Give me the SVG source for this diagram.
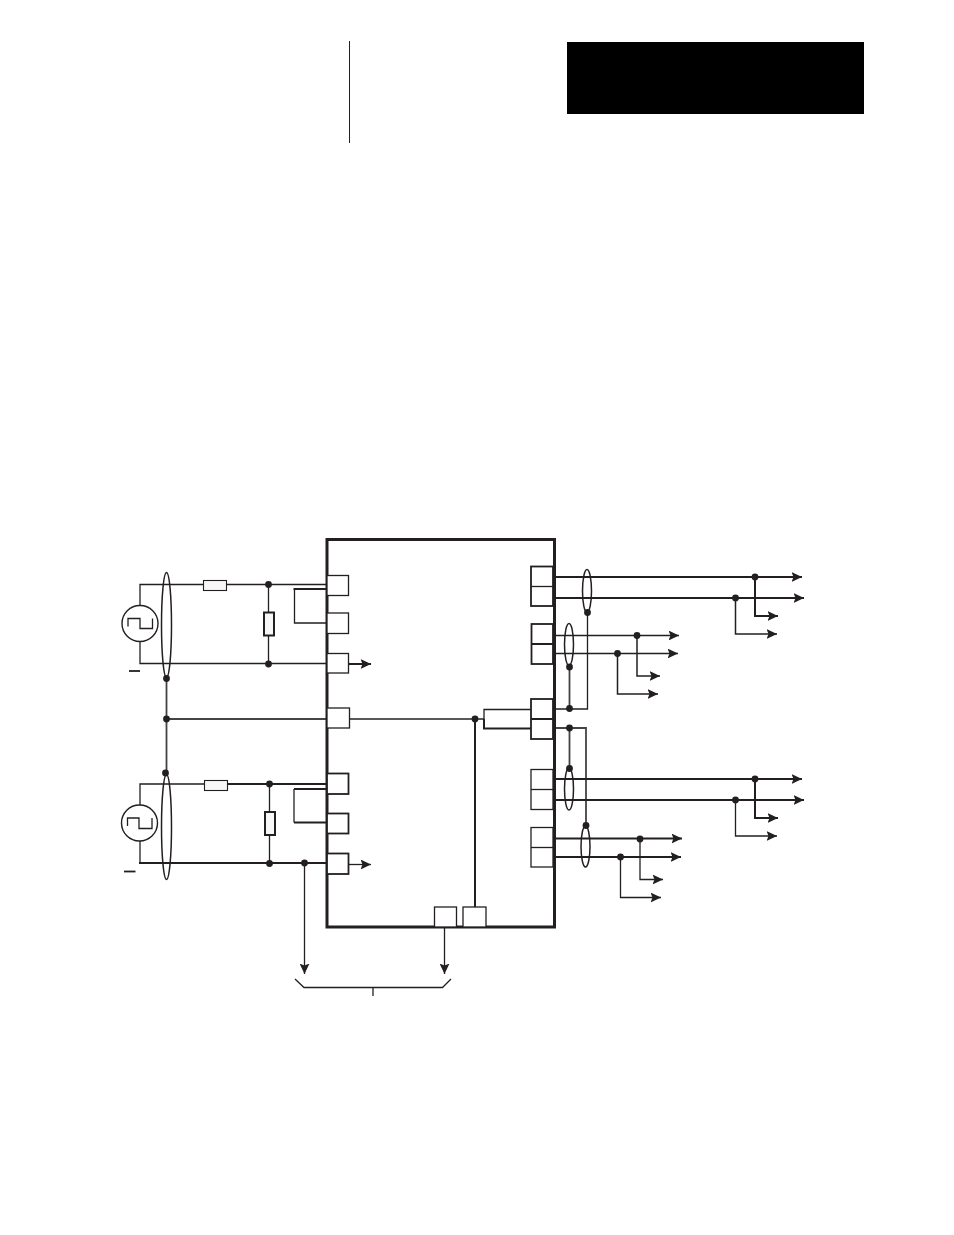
<svg xmlns="http://www.w3.org/2000/svg" width="954" height="1235" viewBox="0 0 954 1235">
<style>
.w{fill:none;stroke:#231f20;stroke-width:1.3}
.m{fill:none;stroke:#231f20;stroke-width:1.5}
.t{fill:none;stroke:#231f20;stroke-width:2}
.g{fill:none;stroke:#444;stroke-width:1.8}
.box{fill:#fff;stroke:#231f20;stroke-width:1.3}
.boxt{fill:#fff;stroke:#231f20;stroke-width:1.8}
.res{fill:#f7f7f7;stroke:#231f20;stroke-width:1.1}
.rest{fill:#f7f7f7;stroke:#231f20;stroke-width:2}
.d{fill:#231f20}
.e{fill:none;stroke:#231f20;stroke-width:1.5}
.a{fill:none;stroke:#231f20;stroke-width:1.3;marker-end:url(#ah)}
.am{fill:none;stroke:#231f20;stroke-width:1.5;marker-end:url(#ah)}
.at{fill:none;stroke:#231f20;stroke-width:2;marker-end:url(#ah)}
</style>
<defs>
<marker id="ah" markerUnits="userSpaceOnUse" markerWidth="11" markerHeight="10" refX="10.500" refY="5" orient="auto"><path d="M0 0L10.500 5L0 10L2 5Z" fill="#231f20"/></marker>
</defs>
<g id="header">
<rect x="567" y="42" width="297" height="72" fill="#000"/>
<line x1="349.500" y1="41" x2="349.500" y2="143" stroke="#231f20" stroke-width="1"/>
</g>
<g id="connectors">
<path class="w" d="M140 605V584.500H203.500M226.500 584.500H327"/>
<path class="w" d="M140 641V663.500H327"/>
<path class="w" d="M268.500 584.500V612.500M268.500 635.500V664"/>
<path class="w" d="M327 623H294.500V589"/><path class="t" d="M293.500 589H327"/>
<path class="g" d="M166.500 678V773M166.500 719H327"/>
<path class="at" d="M348 664H371"/>
<path class="w" d="M349.500 719H484"/>
<path class="t" d="M475 719V907"/>
<path class="w" d="M140 805V784H204.500"/><path class="t" d="M228 784H327"/>
<path class="w" d="M140 841V863"/><path class="t" d="M139 863H327"/>
<path class="w" d="M269.500 784V812M269.500 835V863.500"/>
<path class="w" d="M294 789V822.500"/><path class="t" d="M294 789H327M294 822.500H327"/>
<path class="a" d="M347 864.500H371"/>
<path class="a" d="M304.500 863V974"/>
<path class="a" d="M444.500 927V974"/>
<path class="w" d="M295 979L304 987.500H442.500L451 979M373 987.500V996"/>
<path class="at" d="M555 577H802"/><path class="at" d="M555 598H804"/>
<path class="at" d="M755 577V616H778"/><path class="am" d="M735.500 598V634H777"/>
<path class="a" d="M555 635.500H679"/><path class="a" d="M555 653.500H678"/>
<path class="am" d="M637 635.500V676H660"/><path class="am" d="M617.500 653.500V694H658"/>
<path class="w" d="M587.500 612V709H555"/>
<path class="g" d="M569.500 667V708.500"/>
<path class="g" d="M555 728H586V825.500M569.500 728V768.500"/>
<path class="at" d="M555 779H802"/><path class="at" d="M555 800H804"/>
<path class="at" d="M755 779V818H778"/><path class="a" d="M735.500 800V836H777"/>
<path class="at" d="M555 838.500H682"/><path class="at" d="M555 857H681"/>
<path class="a" d="M640 839V879.500H663"/><path class="a" d="M620.500 857V897.500H661"/>
</g>
<g id="main-block"><rect x="327" y="539.500" width="227.500" height="387.500" fill="none" stroke="#231f20" stroke-width="3"/></g>
<g id="source-1"><circle cx="140" cy="623.500" r="18" fill="#fff" stroke="#231f20" stroke-width="1.400"/><path class="w" d="M128 626.500V618.500H140V628.500H152.500V618.500"/><line x1="129" y1="671" x2="140" y2="671" stroke="#231f20" stroke-width="1.800"/></g>
<g id="source-2"><circle cx="139.500" cy="823" r="18" fill="#fff" stroke="#231f20" stroke-width="1.400"/><path class="w" d="M127.500 826V818H139V828.500H152V818"/><line x1="124" y1="871.500" x2="135.500" y2="871.500" stroke="#231f20" stroke-width="1.800"/></g>
<g id="shields">
<ellipse class="e" cx="166.500" cy="625" rx="5" ry="52.500"/>
<ellipse class="e" cx="166.500" cy="827" rx="5" ry="52.500"/>
<ellipse class="e" cx="587" cy="591" rx="4.500" ry="21.500"/>
<ellipse class="e" cx="569" cy="644.500" rx="4.500" ry="21"/>
<ellipse class="e" cx="569" cy="789" rx="4.500" ry="21"/>
<ellipse class="e" cx="585.500" cy="846.500" rx="4.500" ry="20.500"/>
</g>
<g id="resistors">
<rect class="res" x="203.500" y="580.500" width="23" height="10"/>
<rect class="rest" x="264" y="612.500" width="10" height="23"/>
<rect class="res" x="204.500" y="780.500" width="23" height="10"/>
<rect class="rest" x="265" y="812" width="10" height="23"/>
</g>
<g id="terminals-left">
<rect class="box" x="327" y="575.500" width="21.500" height="20"/>
<rect class="box" x="327" y="613" width="21.500" height="20.500"/>
<rect class="box" x="327" y="653.500" width="21.500" height="19.500"/>
<rect class="box" x="327" y="708" width="22.500" height="20"/>
<rect class="boxt" x="327" y="773.500" width="21.500" height="20.500"/>
<rect class="boxt" x="327" y="813.500" width="21.500" height="20"/>
<rect class="boxt" x="327" y="853.500" width="21.500" height="20.500"/>
</g>
<g id="terminals-bottom">
<rect class="box" x="434.500" y="907" width="22" height="20"/>
<rect class="box" x="463" y="907" width="23" height="20"/>
</g>
<g id="terminals-right">
<rect class="boxt" x="531" y="566.500" width="22" height="39.500"/><line class="w" x1="531" y1="586.500" x2="553" y2="586.500"/>
<rect class="boxt" x="531.500" y="624" width="21.500" height="40"/><line class="t" x1="531.500" y1="644" x2="553" y2="644"/>
<rect class="boxt" x="531" y="699" width="22" height="40"/><line class="t" x1="531" y1="719" x2="553" y2="719"/>
<path class="w" d="M531 709.500H484V719"/><path class="t" d="M484 719V728.500H531"/>
<rect class="box" x="531" y="769.500" width="22" height="40"/><line class="w" x1="531" y1="789.500" x2="553" y2="789.500"/>
<rect class="box" x="531" y="827.500" width="22" height="39.500"/><line class="w" x1="531" y1="847.500" x2="553" y2="847.500"/>
</g>
<g id="junctions" class="d">
<circle cx="268.500" cy="584.500" r="3.400"/><circle cx="268.500" cy="664" r="3.400"/>
<circle cx="166.500" cy="678.500" r="3.400"/><circle cx="166.500" cy="719" r="3.400"/><circle cx="165.500" cy="773" r="3.400"/>
<circle cx="269.500" cy="784" r="3.400"/><circle cx="269.500" cy="863.500" r="3.400"/><circle cx="304.500" cy="863" r="3.400"/>
<circle cx="475" cy="719" r="3.400"/>
<circle cx="755" cy="577" r="3.400"/><circle cx="735.500" cy="598" r="3.400"/>
<circle cx="587.500" cy="612.500" r="3.400"/>
<circle cx="637" cy="635.500" r="3.400"/><circle cx="617.500" cy="653.500" r="3.400"/>
<circle cx="569.500" cy="667" r="3.400"/><circle cx="569.500" cy="708.500" r="3.400"/><circle cx="569.500" cy="728" r="3.400"/><circle cx="569.500" cy="768.500" r="3.400"/><circle cx="586" cy="825.500" r="3.400"/>
<circle cx="755" cy="779" r="3.400"/><circle cx="735.500" cy="800" r="3.400"/>
<circle cx="640" cy="839" r="3.400"/><circle cx="620.500" cy="857" r="3.400"/>
</g>
</svg>
